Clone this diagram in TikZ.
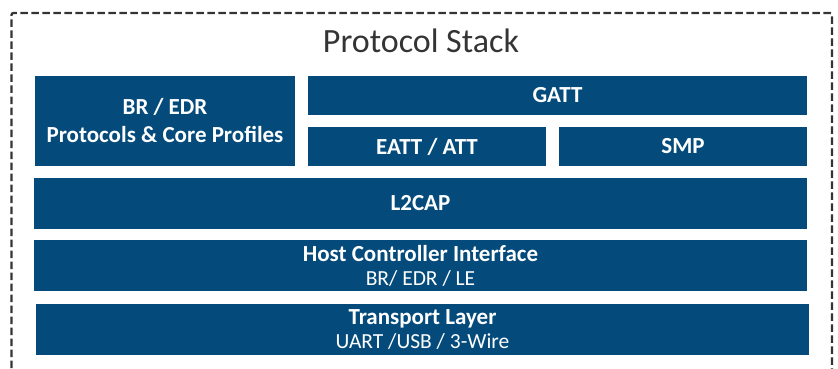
\documentclass[tikz,border=0pt]{standalone}
\usepackage{fontspec}
\setmainfont{Carlito}
\usetikzlibrary{positioning}

\definecolor{stackblue}{RGB}{4,75,124}
\definecolor{framegray}{RGB}{52,52,52}
\newcommand{\sublayerfont}{\fontsize{21.5}{24}\selectfont\mdseries}

\tikzset{
	layer/.style={fill=stackblue,text=white,inner sep=0pt,align=center,
		font=\fontsize{23}{24}\selectfont\bfseries}
}

\begin{document}
\begin{tikzpicture}[x=1pt,y=-1pt]
\useasboundingbox (0,0) rectangle (838,369);

% outer dashed frame (bottom edge falls off the page)
\draw[framegray,line width=2.3pt,dash pattern=on 7.5pt off 3.5pt,rounded corners=2pt]
	(11.5,390) -- (11.5,13) -- (832,13) -- (832,390);
\node[text=framegray,font=\fontsize{34}{40}\selectfont] (title) at (421,41) {Protocol Stack};

% host side
\node[layer,minimum width=260,minimum height=90,font=\fontsize{23}{28}\selectfont\bfseries]
	(bredr) at (165,121) {BR / EDR\\Protocols \& Core Profiles};
\node[layer,minimum width=499,minimum height=39] (gatt) at (557.5,95.5) {GATT};
\node[layer,minimum width=238,minimum height=39] (att) at (427,146.5) {EATT / ATT};
\node[layer,minimum width=248,minimum height=39] (smp) at (683,146.5) {SMP};
\node[layer,minimum width=773,minimum height=51] (l2cap) at (420.5,203.5) {L2CAP};

% controller interface and transport
\node[layer,minimum width=773,minimum height=51] (hci) at (420.5,265.5)
	{Host Controller Interface\\{\sublayerfont BR/ EDR / LE}};
\node[layer,minimum width=773,minimum height=51] (transport) at (422.5,329.5)
	{Transport Layer\\{\sublayerfont UART /USB / 3-Wire}};
\end{tikzpicture}
\end{document}
